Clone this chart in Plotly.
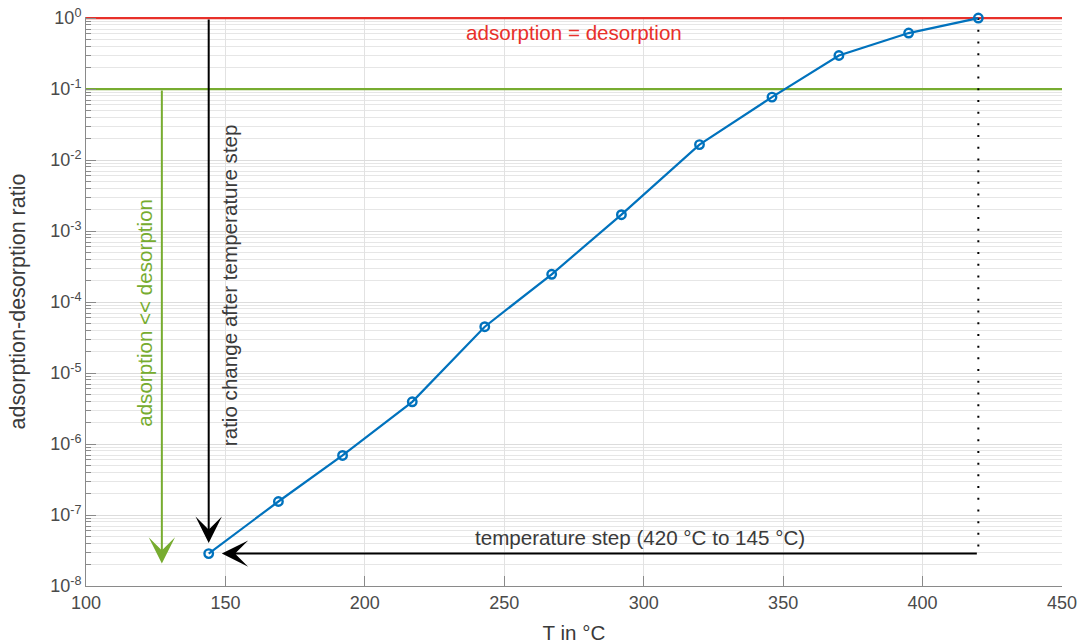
import numpy as np
import plotly.graph_objects as go

# ---- data ----
T = [144, 169, 192, 217, 243, 267, 292, 320, 346, 370, 395, 420]
ratio = [2.86e-8, 1.55e-7, 6.9e-7, 3.93e-6, 4.49e-5, 2.46e-4, 1.70e-3,
         1.65e-2, 7.7e-2, 0.297, 0.615, 1.0]

level_equal = 1.0          # adsorption = desorption
level_small = 0.1          # adsorption << desorption
green_arrow_x = 127.2
green_arrow_tip = 2.07e-8
black_arrow_tip = 4.05e-8
horiz_arrow_tip_x = 148.7

x_ticks = [100, 150, 200, 250, 300, 350, 400, 450]
y_exps = [-8, -7, -6, -5, -4, -3, -2, -1, 0]
y_tickvals = [10.0 ** e for e in y_exps]
y_ticktext = ["10<sup>%d</sup>" % e for e in y_exps]

RED = "#e8302a"
GREEN = "#77ac30"
BLUE = "#0072bd"
DARK = "#3a3a3a"
FONT = "Liberation Sans, Arial, Helvetica, sans-serif"
TXT = 20.6

fig = go.Figure()

# horizontal reference levels
fig.add_trace(go.Scatter(x=[100, 450], y=[level_equal, level_equal], mode="lines",
                         line=dict(color=RED, width=2.2), hoverinfo="skip", showlegend=False))
fig.add_trace(go.Scatter(x=[100, 450], y=[level_small, level_small], mode="lines",
                         line=dict(color=GREEN, width=2.2), hoverinfo="skip", showlegend=False))
# dotted vertical at start temperature
fig.add_trace(go.Scatter(x=[T[-1], T[-1]], y=[ratio[-1], ratio[0]], mode="lines",
                         line=dict(color="black", width=2, dash="2px,9.7px"),
                         hoverinfo="skip", showlegend=False))
# data
fig.add_trace(go.Scatter(x=T, y=ratio, mode="lines+markers", cliponaxis=False,
                         line=dict(color=BLUE, width=2.2),
                         marker=dict(symbol="circle-open", size=8.5, color=BLUE,
                                     line=dict(width=2.4, color=BLUE)),
                         showlegend=False))

L = np.log10
arrow_style = dict(xref="x", yref="y", axref="x", ayref="y", text="", showarrow=True,
                   arrowhead=3, arrowsize=2.2, arrowwidth=2, standoff=0)
annotations = [
    dict(x=green_arrow_x, y=L(green_arrow_tip), ax=green_arrow_x, ay=L(level_small),
         arrowcolor=GREEN, **arrow_style),
    dict(x=T[0], y=L(black_arrow_tip), ax=T[0], ay=L(level_equal),
         arrowcolor="black", **arrow_style),
    dict(x=horiz_arrow_tip_x, y=L(ratio[0]), ax=T[-1], ay=L(ratio[0]),
         arrowcolor="black", **arrow_style),
    # texts
    dict(x=275.1, y=-0.21, xref="x", yref="y", text="adsorption = desorption",
         showarrow=False, font=dict(family=FONT, size=TXT, color=RED)),
    dict(x=121.2, y=-4.15, xref="x", yref="y", text="adsorption << desorption",
         textangle=-90, showarrow=False, font=dict(family=FONT, size=TXT, color=GREEN)),
    dict(x=151.7, y=-3.76, xref="x", yref="y", text="ratio change after temperature step",
         textangle=-90, showarrow=False, font=dict(family=FONT, size=TXT, color=DARK)),
    dict(x=298.7, y=-7.313, xref="x", yref="y", text="temperature step (420 °C to 145 °C)",
         showarrow=False, font=dict(family=FONT, size=TXT, color=DARK)),
]

fig.update_layout(
    width=1083, height=644,
    margin=dict(l=86, r=21, t=17, b=58),
    paper_bgcolor="white", plot_bgcolor="white",
    font=dict(family=FONT, color="#4a4a4a", size=18),
    annotations=annotations,
    showlegend=False,
)

fig.update_xaxes(
    range=[100, 450], tickvals=x_ticks, showgrid=True, gridcolor="#e2e2e2", gridwidth=1,
    showline=True, linecolor="#8a8a8a", linewidth=1, mirror=False, automargin=False,
    ticks="inside", ticklen=10, tickcolor="#8a8a8a", zeroline=False,
    tickfont=dict(size=18, color="#4a4a4a"),
    title=dict(text="T in °C", font=dict(size=TXT, color=DARK), standoff=14),
)
fig.update_yaxes(
    type="log", range=[-8, 0.015], tickvals=y_tickvals, ticktext=y_ticktext,
    showgrid=True, gridcolor="#dcdcdc", gridwidth=1, automargin=False,
    showline=True, linecolor="#8a8a8a", linewidth=1, mirror=False,
    ticks="inside", ticklen=10, tickcolor="#8a8a8a", zeroline=False,
    tickfont=dict(size=18, color="#4a4a4a"),
    minor=dict(dtick="D1", showgrid=True, gridcolor="#e6e6e6", gridwidth=1,
               ticks="inside", ticklen=5, tickcolor="#8a8a8a"),
    title=dict(text="adsorption-desorption ratio", font=dict(size=21.5, color=DARK),
               standoff=18),
)

fig.write_html("out.html")
